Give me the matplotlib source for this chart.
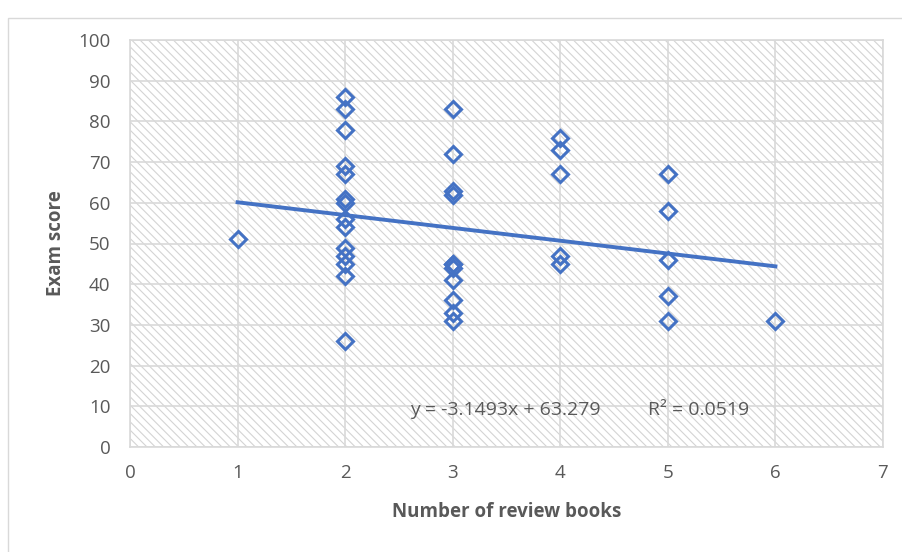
import numpy as np
import matplotlib
matplotlib.use('Agg')
import matplotlib.pyplot as plt
from matplotlib.patches import Rectangle

# review books vs exam score
books = [1,
         2, 2, 2, 2, 2, 2, 2, 2, 2, 2, 2, 2, 2, 2,
         3, 3, 3, 3, 3, 3, 3, 3, 3, 3, 3,
         4, 4, 4, 4, 4,
         5, 5, 5, 5, 5,
         6]
scores = [51,
          86, 83, 78, 69, 67, 61, 60, 56, 54, 49, 47, 45, 42, 26,
          83, 72, 63, 62, 45, 45, 44, 41, 36, 33, 31,
          76, 73, 67, 47, 45,
          67, 58, 46, 37, 31,
          31]
slope = -3.1493
intercept = 63.279
r_squared = 0.0519
x_ticks = [0, 1, 2, 3, 4, 5, 6, 7]
y_ticks = [0, 10, 20, 30, 40, 50, 60, 70, 80, 90, 100]

blue = '#4472C4'
grey_text = '#595959'
grid_grey = '#d9d9d9'

plt.rcParams['font.family'] = ['Open Sans', 'DejaVu Sans']
plt.rcParams['hatch.color'] = '#d4d4d4'
plt.rcParams['hatch.linewidth'] = 0.8

fig = plt.figure(figsize=(9.03, 5.52), dpi=100)
fig.patches.append(Rectangle((8 / 903, -0.1), 1.2, 1.1 - 18 / 552, transform=fig.transFigure,
                             fill=False, edgecolor=grid_grey, linewidth=1.0))
ax = fig.add_axes([130 / 903, 1 - 447 / 552, 753 / 903, 407 / 552])

# hatched plot area
ax.add_patch(Rectangle((0, 0), 1, 1, transform=ax.transAxes, facecolor='white',
                       hatch='\\\\\\\\', linewidth=0, zorder=0))

ax.set_xlim(0, 7)
ax.set_ylim(0, 100)
ax.set_xticks(x_ticks)
ax.set_yticks(y_ticks)
ax.grid(True, color=grid_grey, linewidth=1.2, zorder=1)
ax.set_axisbelow(True)
for s in ax.spines.values():
    s.set_color(grid_grey)
    s.set_linewidth(1.2)
ax.tick_params(length=0, labelsize=13.5, labelcolor=grey_text)
ax.tick_params(axis='y', pad=14)
ax.tick_params(axis='x', pad=12)

xs = np.array([min(books), max(books)])
ax.plot(xs, slope * xs + intercept, color=blue, linewidth=2.8, zorder=3)
ax.plot(books, scores, linestyle='none', marker='D', markersize=8,
        markerfacecolor='none', markeredgecolor=blue, markeredgewidth=2.2, zorder=4)

ax.text(2.6, 9.1, 'y = -3.1493x + 63.279', fontsize=14, color=grey_text, va='center', zorder=5)
ax.text(4.815, 9.1, 'R² = 0.0519', fontsize=14, color=grey_text, va='center', zorder=5)

ax.set_xlabel('Number of review books', fontsize=13.5, fontweight='bold', color=grey_text)
ax.set_ylabel('Exam score', fontsize=13.5, fontweight='bold', color=grey_text)
ax.xaxis.set_label_coords(0.5007, -0.135)
ax.yaxis.set_label_coords(-0.085, 0.5)

fig.savefig('out.png', dpi=100)
